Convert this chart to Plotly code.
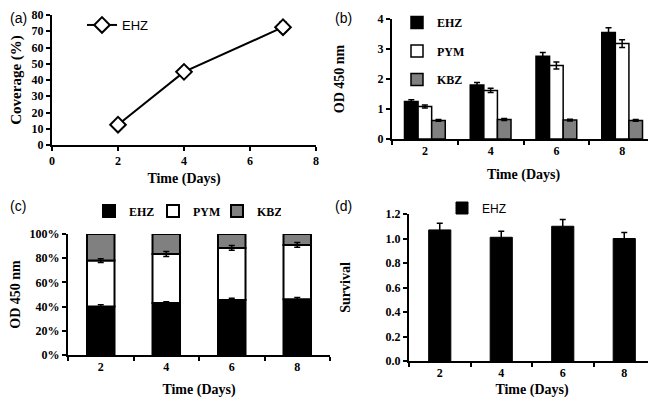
import plotly.graph_objects as go

# ---------------- data ----------------
# (a) coverage
a_days = [2, 4, 7]
a_cov = [12.5, 45, 72.5]
a_err = [1.0, 1.2, 3.0]

# (b) OD 450 nm
days_cat = ["2", "4", "6", "8"]
b_ehz = [1.25, 1.80, 2.76, 3.55]
b_ehz_err = [0.06, 0.08, 0.12, 0.16]
b_pym = [1.08, 1.62, 2.45, 3.18]
b_pym_err = [0.05, 0.07, 0.12, 0.13]
b_kbz = [0.62, 0.65, 0.63, 0.62]
b_kbz_err = [0.03, 0.03, 0.03, 0.03]

# (c) OD 450 nm, percent of total
c_ehz = [40, 43, 45.5, 46]
c_ehz_err = [1.5, 1.0, 1.5, 1.5]
c_pym = [38, 40.5, 43, 45]
c_pym_err = [1.5, 2.0, 2.0, 2.0]
c_kbz = [22, 16.5, 11.5, 9]
c_kbz_err = [0.3, 0.3, 0.3, 0.3]

# (d) survival
d_surv = [1.07, 1.01, 1.10, 1.00]
d_err = [0.055, 0.05, 0.055, 0.05]

# ---------------- styles ----------------
OFF = 8            # page body margin
W, H = 656 - OFF, 406 - 2 * OFF
SERIF = "Liberation Serif"
SANS = "Liberation Sans"
GRAY = "#808080"
tickf = dict(family=SERIF, size=12, color="black", weight="bold")
titlef = dict(family=SERIF, size=14, color="black", weight="bold")

def px_x(p):
    return max(0.0, min(1.0, (p - OFF) / W))

def px_y(p):
    return max(0.0, min(1.0, 1 - (p - OFF) / H))

fig = go.Figure()

# (a)
fig.add_trace(go.Scatter(
    x=a_days, y=a_cov, mode="lines+markers", name="EHZ",
    line=dict(color="black", width=2),
    marker=dict(symbol="diamond", size=12, color="white",
                line=dict(color="black", width=2)),
    error_y=dict(type="data", array=a_err, color="black", thickness=1.5, width=4),
    xaxis="x", yaxis="y", legend="legend",
))

# (b)
for name, vals, errs, col in [("EHZ", b_ehz, b_ehz_err, "black"),
                              ("PYM", b_pym, b_pym_err, "white"),
                              ("KBZ", b_kbz, b_kbz_err, GRAY)]:
    fig.add_trace(go.Bar(
        x=days_cat, y=vals, name=name, marker=dict(color=col, line=dict(color="black", width=1.5)),
        error_y=dict(type="data", array=errs, color="black", thickness=1.5, width=3),
        xaxis="x2", yaxis="y2", legend="legend2", legendgroup="b" + name,
    ))

# (c) stacked via explicit bases
c_base = [0, 0, 0, 0]
for name, vals, errs, col in [("EHZ", c_ehz, c_ehz_err, "black"),
                              ("PYM", c_pym, c_pym_err, "white"),
                              ("KBZ", c_kbz, c_kbz_err, GRAY)]:
    fig.add_trace(go.Bar(
        x=days_cat, y=vals, base=list(c_base), name=name, width=0.42,
        offsetgroup="c",
        marker=dict(color=col, line=dict(color="black", width=2)),
        xaxis="x3", yaxis="y3", legend="legend3",
    ))
    tops = [b + v for b, v in zip(c_base, vals)]
    fig.add_trace(go.Scatter(
        x=days_cat, y=tops, mode="markers", showlegend=False, hoverinfo="skip",
        marker=dict(size=1, color="rgba(0,0,0,0)"),
        error_y=dict(type="data", array=errs, color="black", thickness=1.5, width=3),
        xaxis="x3", yaxis="y3",
    ))
    c_base = tops

# (d)
fig.add_trace(go.Bar(
    x=days_cat, y=d_surv, name="EHZ", width=0.36,
    marker=dict(color="black", line=dict(color="black", width=1)),
    error_y=dict(type="data", array=d_err, color="black", thickness=1.5, width=3),
    xaxis="x4", yaxis="y4", legend="legend4",
))

axis_common = dict(showline=True, linecolor="black", linewidth=2, showgrid=False,
                   zeroline=False, ticks="outside", tickcolor="black", ticklen=4,
                   tickwidth=1.5, tickfont=tickf, automargin=False,
                   ticklabeloverflow="allow")

fig.update_layout(
    width=W, height=H, margin=dict(l=0, r=0, t=0, b=0),
    paper_bgcolor="white", plot_bgcolor="white",
    barmode="group", bargap=0.38, bargroupgap=0.0,
    xaxis=dict(axis_common, domain=[px_x(52), px_x(316)], range=[0, 8], dtick=2,
               anchor="y", title=dict(text="Time (Days)", font=titlef, standoff=6)),
    yaxis=dict(axis_common, domain=[px_y(145), px_y(15)], range=[0, 80], dtick=10,
               anchor="x", title=dict(text="Coverage (%)", font=dict(titlef, size=15), standoff=19)),
    xaxis2=dict(axis_common, domain=[px_x(392), px_x(655)], type="category",
                tickson="boundaries", anchor="y2",
                title=dict(text="Time (Days)", font=titlef, standoff=12)),
    yaxis2=dict(axis_common, domain=[px_y(139), px_y(19)], range=[0, 4], dtick=1,
                anchor="x2", title=dict(text="OD 450 nm", font=titlef, standoff=30)),
    xaxis3=dict(axis_common, domain=[px_x(68), px_x(330)], type="category",
                tickson="boundaries", anchor="y3",
                title=dict(text="Time (Days)", font=titlef, standoff=12)),
    yaxis3=dict(axis_common, domain=[px_y(355), px_y(234)], range=[0, 100], dtick=20,
                ticksuffix="%", anchor="x3",
                title=dict(text="OD 450 nm", font=titlef, standoff=19)),
    xaxis4=dict(axis_common, domain=[px_x(409), px_x(655)], type="category",
                tickson="boundaries", anchor="y4",
                title=dict(text="Time (Days)", font=titlef, standoff=26)),
    yaxis4=dict(axis_common, domain=[px_y(361), px_y(214)], range=[0, 1.2], dtick=0.2,
                tickformat=".1f", anchor="x4",
                title=dict(text="Survival", font=titlef, standoff=32)),
    legend=dict(x=px_x(82), y=px_y(25), xanchor="left", yanchor="middle",
                font=dict(family=SANS, size=13, color="black"), bgcolor="rgba(0,0,0,0)",
                itemwidth=30),
    legend2=dict(x=px_x(397), y=px_y(8), xanchor="left", yanchor="top",
                 font=dict(family=SERIF, size=12, color="black", weight="bold"),
                 bgcolor="rgba(0,0,0,0)", itemwidth=30, tracegroupgap=9.5),
    legend3=dict(x=px_x(89), y=px_y(211), xanchor="left", yanchor="middle",
                 orientation="h", entrywidth=19, entrywidthmode="pixels",
                 font=dict(family=SERIF, size=12, color="black", weight="bold"),
                 bgcolor="rgba(0,0,0,0)", itemwidth=30),
    legend4=dict(x=px_x(442), y=px_y(208), xanchor="left", yanchor="middle",
                 font=dict(family=SANS, size=12, color="black"),
                 bgcolor="rgba(0,0,0,0)", itemwidth=30),
    annotations=[
        dict(text="(a)", x=px_x(2), y=px_y(2), xref="paper", yref="paper",
             xanchor="left", yanchor="top", showarrow=False,
             font=dict(family=SANS, size=14, color="black")),
        dict(text="(b)", x=px_x(333), y=px_y(2), xref="paper", yref="paper",
             xanchor="left", yanchor="top", showarrow=False,
             font=dict(family=SANS, size=14, color="black")),
        dict(text="(c)", x=px_x(2), y=px_y(196), xref="paper", yref="paper",
             xanchor="left", yanchor="top", showarrow=False,
             font=dict(family=SANS, size=14, color="black")),
        dict(text="(d)", x=px_x(333), y=px_y(196), xref="paper", yref="paper",
             xanchor="left", yanchor="top", showarrow=False,
             font=dict(family=SANS, size=14, color="black")),
    ],
)

fig.write_html("out.html")
